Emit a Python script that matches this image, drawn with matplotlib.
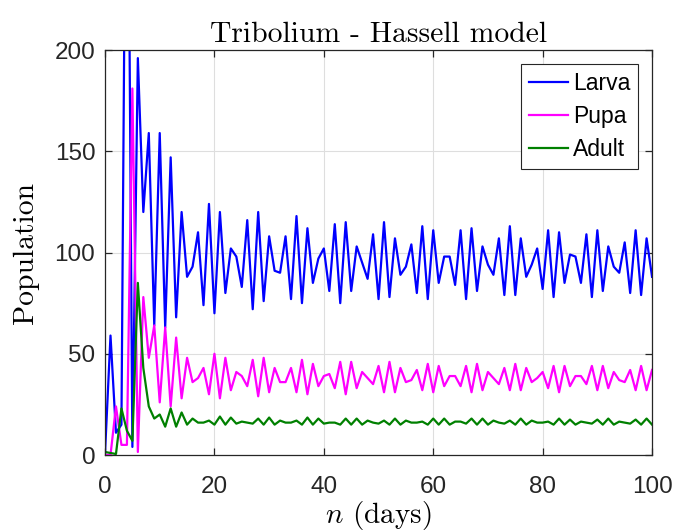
import matplotlib
matplotlib.use('Agg')
import matplotlib.pyplot as plt
import numpy as np

# values, days 0..100
days = np.arange(0, 101)

larva = [1, 59, 11, 15, 390, 4, 196, 120, 159, 64, 159,
         63, 147, 68, 120, 88, 93, 110, 74, 124, 70,
         120, 80, 102, 98, 83, 116, 72, 120, 76, 108,
         91, 90, 108, 77, 118, 75, 112, 85, 97, 102,
         81, 114, 75, 115, 81, 103, 95, 87, 109, 77,
         115, 78, 107, 89, 93, 104, 80, 113, 77, 111,
         85, 98, 98, 84, 111, 77, 112, 81, 103, 94,
         89, 107, 79, 113, 79, 107, 88, 94, 102, 82,
         111, 78, 110, 85, 99, 98, 85, 109, 78, 111,
         81, 103, 93, 90, 105, 80, 111, 79, 107, 88]

pupa = [0, 0, 24, 5, 5, 181, 1.5, 78, 48, 64, 26,
        63, 24, 58, 28, 48, 36, 38, 43, 30, 50,
        28, 48, 32, 41, 39, 34, 47, 29, 48, 31,
        43, 36, 36, 43, 31, 47, 30, 45, 34, 39,
        40, 33, 46, 30, 46, 33, 41, 38, 35, 44,
        31, 46, 31, 43, 36, 37, 42, 32, 45, 31,
        44, 34, 39, 39, 34, 44, 31, 45, 32, 41,
        38, 35, 43, 32, 45, 32, 43, 36, 38, 41,
        33, 44, 31, 44, 34, 39, 39, 35, 44, 32,
        44, 33, 41, 37, 36, 42, 32, 44, 32, 42]

adult = [1.5, 1, 0.5, 23, 12, 7, 85, 43, 24, 18, 20,
         14, 23, 14, 21, 15, 18, 16, 16, 17, 15,
         19, 15, 18.5, 15.5, 16.5, 16, 15.5, 18, 15, 18.5,
         15, 17, 16, 16, 17, 15, 18.5, 15, 18, 15.5,
         16, 16, 15, 18, 15, 18, 15, 17, 16, 15.5,
         17, 15, 18, 15, 17, 16, 16, 16.5, 15, 18,
         15, 18, 15, 16.5, 16.5, 15.5, 18, 15, 18, 15,
         17, 16, 15.5, 17, 15, 18, 15, 17, 16, 16,
         16.5, 15, 18, 15, 17.5, 15, 16.5, 16, 15.5, 17.5,
         15, 18, 15, 16.5, 16, 15.5, 17.5, 15, 18, 15]

plt.rcParams['mathtext.fontset'] = 'cm'
plt.rcParams['axes.unicode_minus'] = False

fig = plt.figure(figsize=(6.75, 5.31), dpi=100)
ax = fig.add_axes([0.1556, 0.1431, 0.8104, 0.7627])

ax.plot(days, larva, color=(0, 0, 1), lw=1.6, label='Larva')
ax.plot(days, pupa, color=(1, 0, 1), lw=1.6, label='Pupa')
ax.plot(days, adult, color=(0, 0.5, 0), lw=1.6, label='Adult')

ax.set_xlim(0, 100)
ax.set_ylim(0, 200)
ax.set_xticks([0, 20, 40, 60, 80, 100])
ax.set_yticks([0, 50, 100, 150, 200])

dark = (0.15, 0.15, 0.15)
ax.grid(True, color=(0.87, 0.87, 0.87), lw=0.8)
ax.set_axisbelow(True)
for s in ax.spines.values():
    s.set_color(dark)
    s.set_linewidth(0.9)
ax.tick_params(direction='in', length=5, width=0.9, colors=dark,
               top=True, right=True, labelsize=17.5, pad=7)
ax.tick_params(axis='x', pad=15)
for lab in ax.get_xticklabels() + ax.get_yticklabels():
    lab.set_fontfamily('Liberation Sans')

ax.set_title('Tribolium - Hassell model', fontfamily='cmr10', fontsize=21.3, pad=6)
ax.set_xlabel(r'$n$ (days)', fontfamily='cmr10', fontsize=21, labelpad=1)
ax.set_ylabel('Population', fontfamily='cmr10', fontsize=21.3, labelpad=11)

leg = ax.legend(loc='upper right', prop={'family': 'Liberation Sans', 'size': 16.5},
                fancybox=False, edgecolor=dark, framealpha=1,
                handlelength=1.7, handletextpad=0.2, borderpad=0.35,
                labelspacing=0.45, borderaxespad=0.6)
leg.get_frame().set_linewidth(0.8)

fig.savefig('out.png', dpi=100)
